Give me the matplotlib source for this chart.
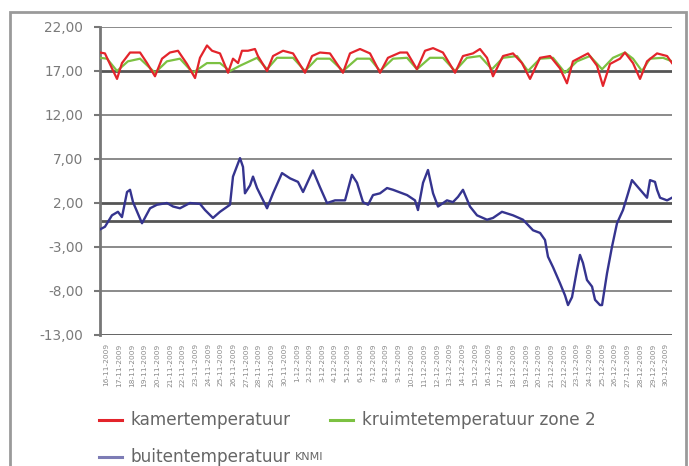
import numpy as np
import matplotlib
matplotlib.use("Agg")
import matplotlib.pyplot as plt
from matplotlib.lines import Line2D
from matplotlib.patches import Rectangle
from datetime import date, timedelta

# tijd in dagen vanaf begin van de reeks (as loopt van 0 tot 44)
t_kamer = [0.0, 0.38, 0.92, 1.31, 1.69, 2.31, 3.08, 3.62, 4.23, 4.77, 5.38, 6.0,
           6.69, 7.31, 7.69, 8.23, 8.62, 9.23, 9.85, 10.23, 10.62, 10.92, 11.38,
           11.92, 12.15, 12.85, 13.31, 14.08, 14.85, 15.77, 16.31, 16.92, 17.69,
           18.69, 19.23, 20.0, 20.77, 21.54, 22.15, 23.08, 23.62, 24.38, 25.0,
           25.62, 26.38, 27.31, 27.92, 28.69, 29.23, 29.77, 30.23, 31.0, 31.77,
           32.46, 33.08, 33.85, 34.62, 35.38, 35.92, 36.38, 37.15, 37.54, 38.23,
           38.69, 39.23, 40.0, 40.38, 41.0, 41.54, 42.08, 42.85, 43.62, 44.0]
kamer = [19.1, 19.0, 17.3, 16.1, 17.9, 19.1, 19.1, 17.9, 16.4, 18.4, 19.1, 19.3,
         17.8, 16.2, 18.5, 19.9, 19.3, 19.0, 16.8, 18.4, 17.9, 19.3, 19.3,
         19.5, 18.7, 17.0, 18.7, 19.3, 19.0, 16.8, 18.7, 19.1, 19.0,
         16.8, 19.0, 19.5, 19.0, 16.8, 18.5, 19.1, 19.1, 17.2, 19.3,
         19.6, 19.1, 16.8, 18.7, 19.0, 19.5, 18.5, 16.4, 18.7, 19.0,
         17.9, 16.1, 18.5, 18.7, 17.3, 15.6, 18.1, 18.7, 19.0, 17.6,
         15.3, 17.8, 18.4, 19.1, 17.9, 16.1, 18.1, 19.0, 18.7, 17.9]

t_kruimte = [0.0, 0.54, 1.31, 2.15, 3.08, 4.23, 5.15, 6.15, 7.15, 8.23, 9.23,
             10.0, 10.77, 12.08, 12.85, 13.62, 14.85, 15.77, 16.69, 17.69, 18.69,
             19.77, 20.77, 21.54, 22.54, 23.62, 24.38, 25.38, 26.38, 27.31, 28.23,
             29.23, 30.15, 31.0, 32.08, 32.92, 33.85, 34.85, 35.77, 36.69, 37.69,
             38.62, 39.46, 40.38, 41.0, 41.69, 42.31, 43.31, 44.0]
kruimte = [18.5, 18.4, 17.0, 18.1, 18.4, 16.8, 18.1, 18.4, 16.8, 17.9, 17.9,
           17.0, 17.6, 18.5, 17.2, 18.5, 18.5, 17.0, 18.4, 18.4, 17.0,
           18.4, 18.4, 17.0, 18.4, 18.5, 17.2, 18.5, 18.5, 17.0, 18.5,
           18.7, 17.2, 18.5, 18.7, 17.0, 18.4, 18.5, 16.8, 18.1, 18.7,
           17.2, 18.5, 19.1, 18.4, 17.0, 18.4, 18.5, 18.1]

t_buiten = [0.0, 0.38, 0.92, 1.38, 1.69, 2.08, 2.31, 2.54, 3.23, 3.85, 4.38,
            5.15, 5.62, 6.15, 6.92, 7.69, 8.08, 8.69, 9.23, 10.0, 10.23, 10.77,
            11.0, 11.15, 11.54, 11.77, 12.08, 12.85, 13.31, 14.0, 14.62, 15.23,
            15.62, 16.38, 16.92, 17.46, 18.08, 18.85, 19.38, 19.77, 20.23, 20.62,
            21.0, 21.54, 22.08, 22.54, 23.62, 24.23, 24.46, 24.85, 25.23, 25.62,
            26.0, 26.69, 27.15, 27.54, 27.92, 28.46, 29.0, 29.77, 30.23, 30.92,
            31.77, 32.54, 33.31, 33.85, 34.23, 34.46, 34.85, 35.38, 35.77, 36.0,
            36.31, 36.69, 36.92, 37.15, 37.46, 37.85, 38.08, 38.46, 38.62, 39.0,
            39.38, 39.77, 40.23, 40.62, 40.92, 41.38, 42.08, 42.31, 42.69, 42.85,
            43.08, 43.62, 44.0]
buiten = [-1.0, -0.7, 0.6, 1.0, 0.4, 3.25, 3.5, 2.1, -0.3, 1.4, 1.8,
          2.0, 1.6, 1.4, 2.0, 1.9, 1.2, 0.3, 1.0, 1.8, 5.0, 7.1,
          6.1, 3.1, 4.0, 5.0, 3.7, 1.4, 3.1, 5.4, 4.8, 4.4,
          3.25, 5.7, 3.8, 2.0, 2.3, 2.3, 5.2, 4.3, 2.1, 1.8,
          2.9, 3.1, 3.7, 3.5, 2.9, 2.3, 1.2, 4.3, 5.75, 3.1,
          1.6, 2.3, 2.1, 2.7, 3.5, 1.6, 0.6, 0.1, 0.3, 1.0,
          0.6, 0.1, -1.1, -1.4, -2.2, -4.1, -5.3, -7.1, -8.5, -9.6,
          -8.7, -5.6, -3.9, -4.8, -6.75, -7.5, -9.0, -9.6, -9.6, -6.0,
          -3.0, -0.3, 1.2, 3.1, 4.6, 3.8, 2.6, 4.6, 4.4, 3.5,
          2.6, 2.3, 2.6]

y_ticks = [22, 17, 12, 7, 2, -3, -8, -13]
start = date(2009, 11, 16)
x_labels = [(start + timedelta(days=i)).strftime("%-d-%-m-%Y") for i in range(45)]

plt.rcParams["font.family"] = ["DejaVu Sans"]
grey = "#7a7a7a"

fig = plt.figure(figsize=(6.89, 4.66), dpi=100)
ax = fig.add_axes([100 / 689, 1 - 335 / 466, 572 / 689, 308 / 466])

ax.set_xlim(0, 44)
ax.set_ylim(-13, 22)

for y in y_ticks:
    heavy = y in (17, 2, -13)
    ax.axhline(y, color="#555555" if heavy else "#8a8a8a",
               lw=2.0 if heavy else 1.4, zorder=1)
ax.axhline(0, color="#555555", lw=2.0, zorder=1)

ax.plot(t_buiten, buiten, color="#35348f", lw=1.7, zorder=3)
ax.plot(t_kruimte, kruimte, color="#7cc142", lw=1.6, zorder=3)
ax.plot(t_kamer, kamer, color="#e3242b", lw=1.6, zorder=4)

for side in ("top", "right", "bottom"):
    ax.spines[side].set_visible(False)
ax.spines["left"].set_color("#777777")
ax.spines["left"].set_linewidth(2.0)

ax.set_yticks(y_ticks)
ax.set_yticklabels([f"{v:.2f}".replace(".", ",") for v in y_ticks],
                   fontsize=9.8, color=grey)
ax.tick_params(axis="y", length=4, width=1.5, color="#777777", pad=8)

ax.set_xticks((np.arange(45) + 0.5) * 44 / 45)
ax.set_xticklabels(x_labels, rotation=90, fontsize=5.3, color="#8a8a8a")
ax.tick_params(axis="x", length=0, pad=6)

# rand rond de hele grafiek
fig.add_artist(Rectangle((10 / 689, -0.1), 676 / 689, 1.1 - 12 / 466,
                         transform=fig.transFigure, fill=False,
                         edgecolor="#9a9a9a", lw=2.0, clip_on=False))

# legenda
def legend_item(x0, y, color, label):
    fig.add_artist(Line2D([x0 / 689, (x0 + 23) / 689], [1 - y / 466] * 2,
                          color=color, lw=2.2, transform=fig.transFigure))
    return fig.text((x0 + 32) / 689, 1 - y / 466, label, fontsize=12.2,
                    color="#666666", va="center", ha="left")

legend_item(99, 420, "#e3242b", "kamertemperatuur")
legend_item(330, 420, "#7cc142", "kruimtetemperatuur zone 2")
buiten_txt = legend_item(99, 457, "#7d7cb5", "buitentemperatuur")

fig.canvas.draw()
bb = buiten_txt.get_window_extent()
fig.text((bb.x1 + 4) / 689, 1 - 457 / 466, "KNMI", fontsize=8,
         color="#666666", va="center", ha="left")

fig.savefig("out.png", dpi=100)
